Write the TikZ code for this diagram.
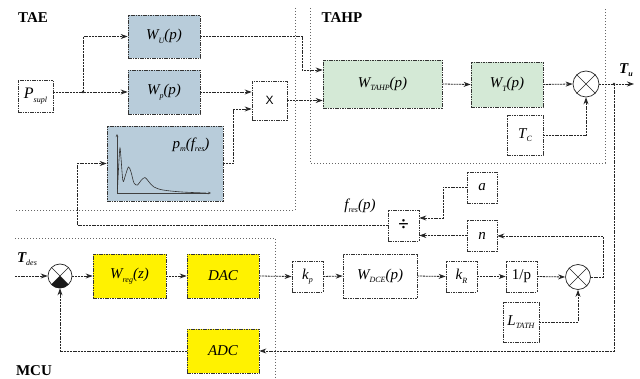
\documentclass[tikz,border=0pt]{standalone}
\usepackage{fontspec}
\setmainfont{Liberation Serif}
\newfontfamily\arialf{Liberation Sans}
\usetikzlibrary{arrows.meta}
\definecolor{boxblue}{HTML}{B8CCDA}
\definecolor{boxgreen}{HTML}{D4E9D6}
\definecolor{boxyellow}{HTML}{FFF200}
\newcommand{\lowsub}[1]{\raisebox{-0.5ex}{\fontsize{8}{8}\selectfont #1}}
\begin{document}
\begin{tikzpicture}[x=1pt,y=-1pt,
  box/.style={draw=black!80, dash pattern=on 1.6pt off 0.8pt, line width=0.7pt, inner sep=0pt, fill=white,
    font=\fontsize{15}{18}\selectfont\itshape},
  bluebox/.style={box, fill=boxblue},
  greenbox/.style={box, fill=boxgreen},
  yellowbox/.style={box, fill=boxyellow},
  conn/.style={draw=black!85, line width=0.8pt, dash pattern=on 2pt off 0.8pt, -{Stealth[length=7pt,width=5pt]}},
  region/.style={draw=black!60, line width=0.8pt, dash pattern=on 0.8pt off 2.2pt},
  sumj/.style={circle, draw=black!85, line width=0.7pt, inner sep=0pt, fill=white},
  title/.style={font=\fontsize{15}{18}\selectfont\bfseries},
  lbl/.style={font=\fontsize{15}{18}\selectfont\itshape, inner sep=0pt}
]
\fill[white] (0,0) rectangle (640,379);
\useasboundingbox (0,0) rectangle (640,379);

% regions
\draw[region] (295,8) -- (295,210) -- (15,210);
\draw[region] (310,8) -- (310,163) -- (605,163) -- (605,8);
\draw[region] (15,238) -- (275,238) -- (275,378);

\node[title] (tTAE) at (33,18) {TAE};
\node[title] (tTAHP) at (342,18) {TAHP};
\node[title] (tMCU) at (34,371) {MCU};

% top blocks
\node[box, minimum width=35, minimum height=32, font=\fontsize{16}{18}\selectfont\itshape] (P) at (35.5,96) {P\lowsub{supl}};
\node[bluebox, minimum width=72, minimum height=43] (WU) at (164,36.5) {W\lowsub{U}(p)};
\node[bluebox, minimum width=72, minimum height=44] (Wp) at (164,92) {W\lowsub{p}(p)};
\node[bluebox, minimum width=116, minimum height=75] (pm) at (165,163.5) {};
\node[lbl] (pmlbl) at (191,145) {p\lowsub{m}(f\lowsub{res})};
\node[box, minimum width=35, minimum height=39, font=\arialf\fontsize{12}{14}\selectfont] (X) at (269.5,100.5) {X};
\node[greenbox, minimum width=119, minimum height=48] (WTAHP) at (382.5,84) {W\lowsub{TAHP}(p)};
\node[greenbox, minimum width=72, minimum height=45] (WT) at (507,84.5) {W\lowsub{T}(p)};
\node[sumj, minimum size=26] (S1) at (586,84) {};
\draw[black!85, line width=0.6pt] (S1.north east) -- (S1.south west) (S1.north west) -- (S1.south east);
\node[box, minimum width=36, minimum height=40] (TC) at (525,135) {T\lowsub{C}};

% spectrum plot
\draw[black!75, line width=0.5pt, -{Stealth[length=3pt,width=2.5pt]}] (117,193) -- (117,134);
\draw[black!75, line width=0.5pt, -{Stealth[length=3pt,width=2.5pt]}] (117,193) -- (211,193);
\draw[black!80, line width=0.6pt] plot[smooth, tension=0.55] coordinates {(117.5,189) (119,160) (120,148) (121,158) (123,181) (125.5,175) (128.5,167) (131,172) (134,183) (137.5,185) (141,180.5) (145,177.5) (149,182) (154,187) (163,190) (182,192) (206,193)};

% middle blocks
\node[box, minimum width=30, minimum height=31] (a) at (482,187.5) {a};
\node[box, minimum width=30, minimum height=31] (n) at (482,235.5) {n};
\node[box, minimum width=31, minimum height=31, font=\fontsize{19}{20}\selectfont\bfseries] (div) at (403.5,225.5) {÷};
\node[lbl] (flbl) at (360,206) {f\lowsub{res}(p)};

% bottom blocks
\node[sumj, minimum size=24] (S0) at (60,276) {};
\fill[black!90] (S0.center) -- (S0.south west) arc[start angle=225, end angle=315, radius=12pt] -- cycle;
\draw[black!85, line width=0.6pt] (S0.north east) -- (S0.south west) (S0.north west) -- (S0.south east);
\node[yellowbox, minimum width=73, minimum height=44] (Wreg) at (129.5,276) {W\lowsub{reg}(z)};
\node[yellowbox, minimum width=72, minimum height=44] (DAC) at (223,276) {DAC};
\node[box, minimum width=31, minimum height=31] (kp) at (307.5,276.5) {k\lowsub{p}};
\node[box, minimum width=74, minimum height=44] (WDCE) at (380,276) {W\lowsub{DCE}(p)};
\node[box, minimum width=31, minimum height=31] (kR) at (461.5,276.5) {k\lowsub{R}};
\node[box, minimum width=31, minimum height=31, font=\fontsize{15}{18}\selectfont] (invp) at (521.5,276.5) {1/p};
\node[sumj, minimum size=25] (S2) at (578,277) {};
\draw[black!85, line width=0.6pt] (S2.north east) -- (S2.south west) (S2.north west) -- (S2.south east);
\node[box, minimum width=36, minimum height=40] (L) at (521,322) {L\lowsub{TATH}};
\node[yellowbox, minimum width=72, minimum height=44] (ADC) at (223,351) {ADC};

% labels of signals
\node[font=\fontsize{15}{18}\selectfont\bfseries\itshape, inner sep=0pt] (Tu) at (626,70) {T\lowsub{u}};
\node[font=\fontsize{15}{18}\selectfont\bfseries\itshape, inner sep=0pt] (Tdes) at (27,259) {T\lowsub{\mdseries des}};

% coordinates
\coordinate (br) at (83,92);
\coordinate (j1) at (302,70);
\coordinate (j2) at (233,109);
\coordinate (tap) at (614,84);
\coordinate (tuend) at (634,84);
\coordinate (j3) at (603,236);
\coordinate (j4) at (443,218);
\coordinate (j5) at (77,163.5);
\coordinate (tin) at (15,276);

% connectors top
\draw[conn] (P.east |- br) -- (Wp.west);
\draw[conn] (br) |- (WU.west);
\fill[black!85] (br) circle (1.3pt);
\draw[conn] (WU.east) -| (j1) -- (j1 -| WTAHP.west);
\draw[conn] (Wp.east) -- (Wp.east -| X.west);
\draw[conn] (pm.east) -| (j2) -- (j2 -| X.west);
\draw[conn] (X.east) -- (X.east -| WTAHP.west);
\draw[conn] (WTAHP.east) -- (WT.west);
\draw[conn] (WT.east) -- (S1.west);
\draw[conn] (TC.east) -| (S1.south);
\draw[conn] (S1.east) -- (tuend);
\fill[black!85] (tap) circle (1.3pt);
\draw[conn] (tap) |- (ADC.east);

% middle
\draw[conn] (S2.east) -| (j3) -- (j3 -| n.east);
\draw[conn] (n.west) -- (n.west -| div.east);
\draw[conn] (a.west) -| (j4) -- (j4 -| div.east);
\draw[conn] (div.west) -| (j5) -- (pm.west);

% bottom
\draw[conn] (tin) -- (S0.west);
\draw[conn] (S0.east) -- (Wreg.west);
\draw[conn] (Wreg.east) -- (DAC.west);
\draw[conn] (DAC.east) -- (kp.west);
\draw[conn] (kp.east) -- (WDCE.west);
\draw[conn] (WDCE.east) -- (kR.west);
\draw[conn] (kR.east) -- (invp.west);
\draw[conn] (invp.east) -- (S2.west);
\draw[conn] (L.east) -| (S2.south);
\draw[conn] (ADC.west) -| (S0.south);
\end{tikzpicture}
\end{document}
